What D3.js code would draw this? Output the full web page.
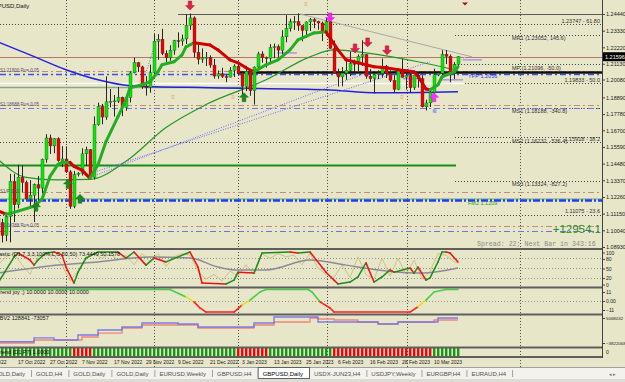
<!DOCTYPE html>
<html>
<head>
<meta charset="utf-8">
<script src="https://d3js.org/d3.v7.min.js"></script>
<style>
  body { margin: 0; background: #E8E6C9; overflow: hidden; }
  svg { display: block; font-family: "Liberation Sans", Arial, sans-serif; }
</style>
</head>
<body>
<div id="chart"></div>
<script>
// ---------- data ----------
// daily bars, [open, high, low, close], index 0 = 10 Oct 2022
const candles = [
  [1.1087,1.1115,1.0999,1.1055],[1.1055,1.1081,1.0923,1.0970],[1.0970,1.1124,1.0931,1.1097],[1.1097,1.1380,1.0924,1.1330],
  [1.1330,1.1380,1.1059,1.1174],[1.1174,1.1441,1.1150,1.1358],[1.1358,1.1437,1.1255,1.1323],[1.1323,1.1336,1.1207,1.1213],
  [1.1213,1.1338,1.1160,1.1238],[1.1238,1.1316,1.1059,1.1308],[1.1308,1.1366,1.1173,1.1285],[1.1285,1.1482,1.1249,1.1476],
  [1.1476,1.1644,1.1454,1.1619],[1.1619,1.1641,1.1513,1.1566],[1.1566,1.1617,1.1517,1.1614],[1.1614,1.1623,1.1460,1.1467],
  [1.1467,1.1564,1.1425,1.1479],[1.1479,1.1563,1.1386,1.1393],[1.1393,1.1405,1.1147,1.1164],[1.1164,1.1399,1.1151,1.1375],
  [1.1375,1.1392,1.1362,1.1384],[1.1384,1.1550,1.1369,1.1513],[1.1513,1.1561,1.1432,1.1541],[1.1541,1.1545,1.1342,1.1357],
  [1.1357,1.1762,1.1343,1.1707],[1.1707,1.1854,1.1700,1.1829],[1.1829,1.1845,1.1710,1.1758],[1.1758,1.2029,1.1740,1.1859],
  [1.1859,1.1945,1.1823,1.1862],[1.1862,1.1905,1.1761,1.1866],[1.1863,1.1958,1.1852,1.1890],[1.1890,1.1894,1.1764,1.1822],
  [1.1822,1.1904,1.1800,1.1887],[1.1887,1.2062,1.1855,1.2052],[1.2052,1.2154,1.2049,1.2120],[1.2120,1.2125,1.2058,1.2092],
  [1.2092,1.2100,1.1946,1.1959],[1.1959,1.2030,1.1901,1.1957],[1.1957,1.2107,1.1920,1.2053],[1.2053,1.2310,1.2030,1.2263],
  [1.2263,1.2310,1.2139,1.2276],[1.2276,1.2345,1.2170,1.2182],[1.2182,1.2202,1.2110,1.2152],[1.2152,1.2236,1.2133,1.2203],
  [1.2203,1.2272,1.2173,1.2267],[1.2267,1.2322,1.2220,1.2264],[1.2264,1.2307,1.2233,1.2278],[1.2278,1.2444,1.2244,1.2367],
  [1.2367,1.2447,1.2338,1.2418],[1.2418,1.2428,1.2153,1.2189],[1.2189,1.2242,1.2109,1.2143],[1.2143,1.2215,1.2119,1.2153],
  [1.2153,1.2191,1.2098,1.2156],[1.2156,1.2169,1.2086,1.2104],[1.2104,1.2145,1.2014,1.2031],[1.2031,1.2068,1.2013,1.2046],
  [1.2046,1.2086,1.2018,1.2028],[1.2028,1.2046,1.1990,1.2024],[1.2024,1.2090,1.2022,1.2070],[1.2070,1.2110,1.2024,1.2097],
  [1.2097,1.2123,1.2036,1.2050],[1.2050,1.2065,1.1900,1.1962],[1.1962,1.2099,1.1931,1.2063],[1.2063,1.2066,1.1900,1.1933],
  [1.1933,1.2095,1.1841,1.2091],[1.2091,1.2193,1.2084,1.2178],[1.2178,1.2196,1.2120,1.2154],[1.2154,1.2161,1.2087,1.2150],
  [1.2150,1.2244,1.2115,1.2221],[1.2221,1.2247,1.2150,1.2226],[1.2226,1.2241,1.2152,1.2203],[1.2203,1.2336,1.2176,1.2292],
  [1.2292,1.2436,1.2256,1.2348],[1.2348,1.2413,1.2327,1.2392],[1.2392,1.2431,1.2338,1.2394],[1.2394,1.2448,1.2332,1.2367],
  [1.2367,1.2370,1.2262,1.2335],[1.2335,1.2395,1.2285,1.2391],[1.2391,1.2418,1.2330,1.2407],[1.2407,1.2417,1.2349,1.2395],
  [1.2395,1.2400,1.2339,1.2384],[1.2384,1.2394,1.2264,1.2321],[1.2321,1.2418,1.2298,1.2392],[1.2392,1.2402,1.2212,1.2215],
  [1.2215,1.2267,1.2050,1.2052],[1.2052,1.2080,1.1961,1.2025],[1.2025,1.2091,1.1963,1.2051],[1.2051,1.2133,1.2006,1.2069],
  [1.2069,1.2194,1.2031,1.2115],[1.2115,1.2140,1.2054,1.2111],[1.2111,1.2175,1.2064,1.2162],[1.2162,1.2269,1.2098,1.2174],
  [1.2174,1.2178,1.2013,1.2030],[1.2030,1.2079,1.1990,1.2013],[1.2013,1.2050,1.1915,1.2041],[1.2041,1.2069,1.2011,1.2048],
  [1.2048,1.2148,1.2021,1.2096],[1.2096,1.2105,1.2018,1.2050],[1.2050,1.2069,1.1991,1.2003],[1.2003,1.2036,1.1922,1.1942],
  [1.1942,1.2070,1.1937,1.2068],[1.2068,1.2144,1.2020,1.2022],[1.2022,1.2069,1.1941,1.2035],[1.2035,1.2045,1.1919,1.1953],
  [1.1953,1.2040,1.1939,1.2038],[1.2038,1.2052,1.1954,1.2014],[1.2014,1.2036,1.1822,1.1826],[1.1826,1.1874,1.1802,1.1852],
  [1.1852,1.1938,1.1825,1.1923],[1.1923,1.2080,1.1906,1.2039],[1.2039,1.2058,1.2030,1.2050],[1.2050,1.2203,1.2014,1.2176],
  [1.2176,1.2204,1.2111,1.2163],[1.2163,1.2175,1.1990,1.2051],[1.2051,1.2124,1.2011,1.2108],[1.2108,1.2163,1.2085,1.2160]
];
const bidPrice = 1.21596;

const dateLabels = [[-4,"5 Oct 2022"],[5,"17 Oct 2022"],[13,"27 Oct 2022"],[21,"7 Nov 2022"],[29,"17 Nov 2022"],
  [37,"29 Nov 2022"],[45,"9 Dec 2022"],[53,"21 Dec 2022"],[61,"3 Jan 2023"],[69,"13 Jan 2023"],[77,"25 Jan 2023"],
  [85,"6 Feb 2023"],[93,"16 Feb 2023"],[101,"28 Feb 2023"],[109,"10 Mar 2023"]];
const gridBars = [17, 39, 60, 82.25, 102.25, 130.5];
const priceTicks = [1.24440,1.23330,1.22220,1.21130,1.20080,1.18890,1.17780,1.16700,1.15590,1.14480,1.13370,1.12260,1.11150,1.10040,1.08930];

// moving averages, [bar, price]
const fastMA = [[0,1.1135],[2,1.1112],[3,1.1115],[9,1.1164],[11,1.1211],[13,1.1363],[15,1.1443],[16,1.1456],[18,1.1456],
  [19,1.1430],[21,1.1405],[23,1.1350],[25,1.1440],[27,1.1595],[30,1.1761],[32,1.1874],[33,1.1953],[36,1.1973],[38,1.1993],
  [40,1.2059],[41,1.2106],[44,1.2126],[46,1.2172],[47,1.2225],[49,1.2252],[53,1.2238],[55,1.2205],[58,1.2139],[60,1.2119],
  [62,1.2086],[64,1.2059],[67,1.2106],[70,1.2139],[73,1.2205],[75,1.2272],[79,1.2318],[82,1.2325],[85,1.2205],[87,1.2139],
  [90,1.2119],[94,1.2093],[97,1.2086],[100,1.2073],[104,1.2059],[105,1.2030],[107,1.1945],[108,1.1940],[110,1.1973],
  [111,1.2026],[114,1.2059],[115,1.2093]];
const slowMA = [[0,1.1476],[7,1.1357],[15,1.1340],[23,1.1343],[32,1.1463],[42,1.1688],[52,1.1841],[67,1.2006],[78,1.2159],
  [84,1.2205],[92,1.2185],[105,1.2126],[114,1.2073],[115,1.2066]];
const longMA = [[0,1.2258],[8,1.2172],[17,1.2073],[25,1.2006],[33,1.1967],[53,1.1953],[82,1.1940],[95,1.1920],[115,1.1927]];

// horizontal objects
const fibLevels = [[1.23747,"61.80"],[1.19833,"50.0"],[1.15918,"38.2"],[1.11075,"23.6"]];
const pivots = [["MR1",1.23052,"145.6"],["MP",1.21096,"-50.0"],["MS1",1.18188,"-340.8"],["MS2",1.16232,"-536.4"],["MS3",1.13324,"-827.2"]];
const pivotStart = 114.25;
const pinkLevels = [1.2066, 1.1837, 1.1257, 1.1032];
const blueLevels = [1.2046, 1.1821, 1.0999];
const ypp = 1.2056, fm2 = 1.1209;
const highLine = [45, 1.2446];
const blackLine = [59.75, 1.2059];
const whiteLine = [116.75, 1.1987];
const greenLine = [114.5, 1.1436];
const greyGreenLine = [61, 1.1960];
const rangeSegs = [[116.25,121,1.2139],[110.5,116.25,1.2006],[69.75,74.75,1.2185],[101.25,105.5,1.2013]];

// trend lines, [[bar, price],[bar, price]]
const greyTrend = [[75.5,1.2444],[118.5,1.2159]];
const greyShort = [[108,1.1927],[116.75,1.2159]];
const dotTrends = [[[23,1.1357],[93.5,1.2066]],[[24.75,1.1397],[108,1.2126]],[[36.75,1.2033],[39.75,1.2285]]];

// signal arrows, [bar, tip price]
const redDown = [[48,1.2470],[89.25,1.2185],[92.4,1.2225],[97.25,1.2172]];
const magentaDown = [[83,1.2391]];
const magentaUp = [[109,1.1920]];
const greenUp = [[9.5,1.1191],[17.5,1.1343],[20.5,1.1244],[61.5,1.1920]];
const orangeMarks = [[43.75,1.1894],[58.75,1.1894],[101,1.1894],[77,1.2510]];

// stochastic window, [bar, value]
const stochMain = [[0,3],[4,84],[5,97],[8,75],[9,59],[10,75],[12,97],[14,100],[16,91],[17,53],[19,3],[20,37],[22,81],[25,100],
  [30,100],[32,81],[34,100],[37,59],[39,81],[42,69],[48,100],[50,53],[51,3],[57,0],[59,12],[60,37],[64,34],[66,97],[73,100],
  [75,97],[78,100],[82,37],[84,12],[85,0],[88,6],[90,22],[92,66],[94,6],[96,22],[98,44],[99,37],[103,50],[104,34],[105,53],
  [107,12],[108,19],[110,69],[111,100],[112,100],[113,97],[115,69]];
const stochSlow = [[0,34],[15,59],[25,69],[38,84],[48,81],[55,53],[59,44],[67,44],[78,75],[87,59],[95,44],[106,34],[115,50]];
const stochFast = [[0,60],[2,85],[4,95],[6,60],[8,30],[10,85],[12,95],[14,90],[16,60],[18,10],[20,40],[22,85],[24,95],[26,80],
  [28,95],[30,75],[32,90],[34,60],[36,95],[38,70],[40,95],[42,55],[44,85],[46,95],[48,90],[50,40],[52,15],[54,30],[56,10],
  [58,40],[60,25],[62,60],[64,30],[66,95],[68,80],[70,95],[72,85],[74,90],[76,60],[78,95],[80,50],[82,30],[84,20],[86,60],
  [88,20],[90,85],[92,30],[94,15],[96,80],[98,25],[100,80],[102,30],[104,75],[106,15],[108,40],[110,95],[112,90],[114,70],[115,65]];
const stochTicks = [100, 80, 50, 20, 0];
const stochLevels = [80, 50, 20];

// trend window
const trendLine = [[0,14],[43,14],[47,5],[49,-1],[50.5,-8.5],[52,-13.5],[59,-13.5],[61,-5],[63,1],[65.5,11],[67,14],[77.5,14],
  [78.5,11],[80.5,-1],[83,-8.5],[84,-13.5],[103,-13.5],[105,-7],[107,1],[109,11],[112,14],[115,14]];

// OBV window (millions)
const obvBlue = [[0,-3.4],[9,-2.0],[14,-2.76],[20,-1.0],[25,0.8],[31,1.87],[36,3.29],[45,2.93],[50,1.87],[64,3.29],
  [69,5.42],[80,3.65],[95,2.93],[100,3.65],[110,5.07],[115,5.07]];
const obvRed = [[0,-3.8],[9,-2.76],[21,-1.7],[25,-0.3],[31,1.51],[36,2.58],[50,1.51],[64,2.58],[69,3.65],[78,5.07],
  [80,4.71],[84,4.36],[90,3.65],[95,2.93],[100,3.65],[109,4.36],[115,4.36]];

// histogram runs, [first bar, last bar, sign]
const histRuns = [[0,18,1],[19,23,-1],[24,59,1],[60,67,-1],[68,83,1],[84,108,-1],[109,115,1]];

const tabs = ["GOLD,Daily","GOLD,H4","GOLD,Daily","GOLD,Daily","EURUSD,Weekly","GBPUSD,H4","GBPUSD,Daily",
  "USDX-JUN23,H4","USDJPY,Weekly","EURGBP,H4","EURAUD,H4"];
const activeTab = 6;

// ---------- layout ----------
const W = 625, H = 382, axisX = 602;
const svg = d3.select("#chart").append("svg").attr("width", W).attr("height", H);
svg.append("rect").attr("width", W).attr("height", H).attr("fill", "#E8E6C9");

const x = d3.scaleLinear().domain([0, 1]).range([-2, 2]);
const yMain = d3.scaleLinear().domain([1.08930, 1.24440]).range([247, 14]);
const yStoch = d3.scaleLinear().domain([0, 100]).range([284, 252]);
const yTrend = d3.scaleLinear().domain([-11, 11]).range([310, 292]);
const yObv = d3.scaleLinear().domain([-3.822068, 5.068032]).range([343, 318]);

const defs = svg.append("defs");
function clip(id, y0, y1) {
  defs.append("clipPath").attr("id", id).append("rect")
    .attr("x", 0).attr("y", y0).attr("width", axisX).attr("height", y1 - y0);
  return svg.append("g").attr("clip-path", "url(#" + id + ")");
}

// vertical grid through all windows
svg.append("g").selectAll("line").data(gridBars).join("line")
  .attr("x1", d => Math.round(x(d)) + 0.5).attr("x2", d => Math.round(x(d)) + 0.5)
  .attr("y1", 0).attr("y2", 367)
  .attr("stroke", "#4a4a4a").attr("stroke-dasharray", "1,2");

// ---------- main window ----------
const main = clip("cMain", 0, 248);

function level(p, b0, b1, stroke, w, dash) {
  const l = main.append("line")
    .attr("x1", b0 == null ? 0 : x(b0)).attr("x2", b1 == null ? axisX : x(b1))
    .attr("y1", Math.round(yMain(p)) + 0.5).attr("y2", Math.round(yMain(p)) + 0.5)
    .attr("stroke", stroke).attr("stroke-width", w);
  if (dash) l.attr("stroke-dasharray", dash);
  return l;
}

fibLevels.forEach(f => level(f[0], null, null, "#454545", 1, "1,2"));
pivots.forEach(p => level(p[1], pivotStart, null, "#454545", 1, "1,2"));
pinkLevels.forEach(p => level(p, null, null, "#C48B78", 1, "6,3,2,3"));
blueLevels.forEach((p, i) => level(p, null, null, i == 0 ? "#3850F0" : "#7272E0", i == 0 ? 1.6 : 1, "6,3,2,3"));
level(fm2, null, null, "#40A040", 0.8).attr("transform", "translate(0,-1.5)");
level(fm2, null, null, "#1E3CFF", 2.6, "7,2,2,2");
level(highLine[1], highLine[0], null, "#5a5a5a", 1);
level(whiteLine[1], null, whiteLine[0], "#FFFFFF", 1.6);
level(greyGreenLine[1], null, greyGreenLine[0], "#86A886", 1.6);
level(greenLine[1], null, greenLine[0], "#139013", 2);
level(bidPrice, null, null, "#B87565", 1);
level(blackLine[1], blackLine[0], null, "#101010", 2.6);

main.append("g").selectAll("line").data(rangeSegs).join("line")
  .attr("x1", d => x(d[0])).attr("x2", d => x(d[1]))
  .attr("y1", d => yMain(d[2])).attr("y2", d => yMain(d[2]))
  .attr("stroke", "#A898E8").attr("stroke-width", 1.5);

const priceLine = d3.line().x(d => x(d[0])).y(d => yMain(d[1])).curve(d3.curveMonotoneX);

main.append("path").attr("d", priceLine(longMA)).attr("fill", "none").attr("stroke", "#2222DD").attr("stroke-width", 1.5);
main.append("path").attr("d", priceLine(slowMA)).attr("fill", "none").attr("stroke", "#259625").attr("stroke-width", 1.2);

const straight = d3.line().x(d => x(d[0])).y(d => yMain(d[1]));
main.append("path").attr("d", straight(greyTrend)).attr("stroke", "#A8A8A8").attr("fill", "none");
main.append("path").attr("d", straight(greyShort)).attr("stroke", "#C8C8C8").attr("fill", "none");
dotTrends.forEach(t => main.append("path").attr("d", straight(t))
  .attr("stroke", "#6A6AF8").attr("stroke-dasharray", "1,1.5").attr("fill", "none"));

// candles
const cg = main.append("g");
cg.selectAll("line").data(candles).join("line")
  .attr("x1", (d, i) => x(i) + 0.5).attr("x2", (d, i) => x(i) + 0.5)
  .attr("y1", d => yMain(d[1])).attr("y2", d => yMain(d[2]))
  .attr("stroke", "#262626");
cg.selectAll("rect").data(candles).join("rect")
  .attr("x", (d, i) => x(i) - 1).attr("width", 3)
  .attr("y", d => yMain(Math.max(d[0], d[3])))
  .attr("height", d => Math.max(1, Math.abs(yMain(d[0]) - yMain(d[3]))))
  .attr("fill", d => d[3] >= d[0] ? "#00F000" : "#F00000")
  .attr("stroke", "#303030").attr("stroke-width", 0.35);

// fast MA: green while rising, red while falling
let maCol = "#D00000";
for (let k = 1; k < fastMA.length; k++) {
  const a = fastMA[k - 1], b = fastMA[k];
  if (b[1] > a[1]) maCol = "#22AE22"; else if (b[1] < a[1]) maCol = "#D00000";
  main.append("line").attr("x1", x(a[0])).attr("y1", yMain(a[1])).attr("x2", x(b[0])).attr("y2", yMain(b[1]))
    .attr("stroke", maCol).attr("stroke-width", 3).attr("stroke-linecap", "round");
}

// arrows
function arrow(list, color, up) {
  main.append("g").selectAll("path").data(list).join("path")
    .attr("transform", d => "translate(" + x(d[0]) + "," + yMain(d[1]) + ")" + (up ? " scale(1,-1)" : ""))
    .attr("d", "M0,0 L-4.5,-4.5 L-1.8,-4.5 L-1.8,-9 L1.8,-9 L1.8,-4.5 L4.5,-4.5 Z")
    .attr("fill", color).attr("stroke", d3.color(color).darker(0.8)).attr("stroke-width", 0.5);
}
arrow(redDown, "#E0204A", false);
arrow(magentaDown, "#FF20FF", false);
arrow(magentaUp, "#FF30FF", true);
arrow(greenUp, "#1E8A1E", true);

main.append("g").selectAll("text").data(orangeMarks).join("text")
  .attr("x", d => x(d[0])).attr("y", d => yMain(d[1]) + 2)
  .attr("text-anchor", "middle").attr("font-size", 6).attr("fill", "#E0A040").text("≡");
main.append("text").attr("x", x(magentaUp[0][0])).attr("y", yMain(magentaUp[0][1]) + 20)
  .attr("text-anchor", "middle").attr("font-size", 6).attr("fill", "#3050F0").text("≋");
main.append("path").attr("transform", "translate(" + x(116.75) + "," + yMain(1.2500) + ")")
  .attr("d", "M0,0 L-3,-3 L3,-3 Z").attr("fill", "#A01030");

// level texts
const small = 5.5;
main.append("g").selectAll("text").data(fibLevels).join("text")
  .attr("x", 600).attr("y", d => yMain(d[0]) - 1.5).attr("text-anchor", "end")
  .attr("font-size", small).attr("fill", "#303030")
  .text(d => d3.format(".5f")(d[0]) + " - " + d[1]);
main.append("g").selectAll("text").data(pivots).join("text")
  .attr("x", x(pivotStart) + 57).attr("y", d => yMain(d[1]) + 5.5)
  .attr("font-size", small).attr("fill", "#303030")
  .text(d => d[0] + " (" + d3.format(".5f")(d[1]) + ", " + d[2] + ")");
main.append("text").attr("x", x(pivotStart) + 13).attr("y", yMain(ypp) + 5.5)
  .attr("font-size", small).attr("fill", "#2030F0").text("YPP " + ypp);
main.append("text").attr("x", x(pivotStart) + 13).attr("y", yMain(fm2) + 5.5)
  .attr("font-size", small).attr("fill", "#20A020").text("FM2 " + fm2);
[[1.2066,"S1:21800  Ru= 0.05"],[1.1837,"S1:18688  Ru= 0.05"],[1.1257,"S1/P 1.12"],[1.1032,"S1:10388 Ru= 0.05"]]
  .forEach(t => main.append("text").attr("x", 0).attr("y", yMain(t[0]) + 1)
    .attr("font-size", 4.5).attr("fill", "#505070").text(t[1]));

main.append("text").attr("x", -11).attr("y", 8).attr("font-size", 6).attr("fill", "#101010").text("GBPUSD,Daily");
main.append("text").attr("x", 601).attr("y", 233).attr("text-anchor", "end")
  .attr("font-size", 11.5).attr("fill", "#2E8B2E").text("+12954.1");
main.append("text").attr("x", 477).attr("y", 246)
  .attr("font-family", "'Liberation Mono', 'DejaVu Sans Mono', monospace")
  .attr("font-size", 6.6).attr("fill", "#8A8A8A").text("Spread: 22; Next Bar in 343:16");

// ---------- stochastic ----------
const st = clip("cSt", 250, 286);
st.append("g").selectAll("line").data(stochLevels).join("line")
  .attr("x1", 0).attr("x2", axisX).attr("y1", d => Math.round(yStoch(d)) + 0.5).attr("y2", d => Math.round(yStoch(d)) + 0.5)
  .attr("stroke", "#909090").attr("stroke-dasharray", "1,2");
const stLine = d3.line().x(d => x(d[0])).y(d => yStoch(d[1]));
st.append("path").attr("d", stLine(stochFast)).attr("fill", "none").attr("stroke", "#C8BE7C").attr("stroke-width", 0.9);
st.append("path").attr("d", stLine.curve(d3.curveMonotoneX)(stochSlow)).attr("fill", "none").attr("stroke", "#8C8C98").attr("stroke-width", 1.5);
stLine.curve(d3.curveLinear);
let sc = "#1E8A1E";
for (let k = 1; k < stochMain.length; k++) {
  const a = stochMain[k - 1], b = stochMain[k];
  if (b[1] > a[1]) sc = "#1E8A1E"; else if (b[1] < a[1]) sc = "#F01010";
  st.append("line").attr("x1", x(a[0])).attr("y1", yStoch(a[1])).attr("x2", x(b[0])).attr("y2", yStoch(b[1]))
    .attr("stroke", sc).attr("stroke-width", 1.5).attr("stroke-linecap", "round");
}
st.append("text").attr("x", -15).attr("y", 255.5).attr("font-size", small).attr("fill", "#101010")
  .text("Stochastic (D1,7,3,3,100%,L,C,50,50) 73.4449 50.1578");

// ---------- trend window ----------
const tr = clip("cTr", 288, 313);
tr.append("line").attr("x1", 0).attr("x2", axisX).attr("y1", Math.round(yTrend(0)) + 0.5).attr("y2", Math.round(yTrend(0)) + 0.5)
  .attr("stroke", "#909090").attr("stroke-dasharray", "1,2");
for (let k = 1; k < trendLine.length; k++) {
  const a = trendLine[k - 1], b = trendLine[k], m = (a[1] + b[1]) / 2;
  const c = m > 3 ? "#40D040" : m < -3 ? "#FF2020" : "#E8E020";
  tr.append("line").attr("x1", x(a[0])).attr("y1", yTrend(a[1])).attr("x2", x(b[0])).attr("y2", yTrend(b[1]))
    .attr("stroke", c).attr("stroke-width", 1.6).attr("stroke-linecap", "round");
}
tr.append("text").attr("x", -3).attr("y", 294).attr("font-size", small).attr("fill", "#101010")
  .text("Trend joy ;) 10.0000 10.0000 10.0000");

// ---------- OBV window ----------
const ob = clip("cOb", 315, 346);
const obLine = d3.line().x(d => x(d[0])).y(d => yObv(d[1])).curve(d3.curveStepAfter);
ob.append("path").attr("d", obLine(obvRed)).attr("fill", "none").attr("stroke", "#F08878").attr("stroke-width", 1.4);
ob.append("path").attr("d", obLine(obvBlue)).attr("fill", "none").attr("stroke", "#7070E8").attr("stroke-width", 1.4).attr("opacity", 0.9);
ob.append("text").attr("x", -4.5).attr("y", 320).attr("font-size", small).attr("fill", "#101010").text("OBV2 128841 -73057");

// ---------- histogram ----------
const hg = clip("cHg", 348, 356);
const histBars = [];
histRuns.forEach(r => { for (let b = r[0]; b <= r[1]; b++) histBars.push([b, r[2]]); });
hg.selectAll("rect").data(histBars).join("rect")
  .attr("x", d => x(d[0]) - 1).attr("width", 2.4).attr("y", 348).attr("height", 9)
  .attr("fill", d => d[1] > 0 ? "#139A13" : "#FF0000");
hg.append("text").attr("x", -3).attr("y", 354).attr("font-size", small).attr("fill", "#101010").text("Trend [D1,P7] 1.0000");

// window borders
[249, 287.5, 314.5, 347.5, 357].forEach(yb => svg.append("line")
  .attr("x1", 0).attr("x2", axisX).attr("y1", yb).attr("y2", yb).attr("stroke", "#5E5E5E").attr("stroke-width", 2));
svg.append("line").attr("x1", axisX + 0.5).attr("x2", axisX + 0.5).attr("y1", 0).attr("y2", 358).attr("stroke", "#404040");

// ---------- right scales ----------
function rscale(scale, ticks, fmt, fs, dy) {
  const g = svg.append("g").attr("transform", "translate(" + (axisX + 1) + "," + (dy || 0) + ")")
    .call(d3.axisRight(scale).tickValues(ticks).tickSize(2).tickPadding(1).tickFormat(fmt));
  g.select(".domain").remove();
  g.selectAll("text").attr("font-size", fs || small).attr("fill", "#202020").attr("font-family", "'Liberation Sans', Arial, sans-serif");
  g.selectAll("line").attr("stroke", "#404040");
}
rscale(yMain, priceTicks, d3.format(".5f"));
rscale(yStoch, stochTicks, d3.format("d"), 5, 0.5);
rscale(yTrend, [11, 0, -11], d => d == 0 ? "0.00" : d3.format("d")(d), 5);
rscale(yObv, [5.068032, -3.822068], d => d3.format("d")(Math.round(d * 1e6)), 4.4);
svg.append("text").attr("x", axisX + 4).attr("y", 354).attr("font-size", 5).attr("fill", "#202020").text("0");

// current price box
svg.append("rect").attr("x", axisX + 1).attr("y", yMain(bidPrice) - 4.5).attr("width", 22).attr("height", 9).attr("fill", "#000");
svg.append("text").attr("x", axisX + 3).attr("y", yMain(bidPrice) + 2).attr("font-size", small).attr("fill", "#FFF")
  .text(d3.format(".5f")(bidPrice));

// ---------- date axis ----------
svg.append("g").selectAll("text").data(dateLabels).join("text")
  .attr("x", d => x(d[0])).attr("y", 364).attr("font-size", 5).attr("fill", "#202020").text(d => d[1]);

// ---------- tab bar ----------
const tb = svg.append("g");
tb.append("rect").attr("x", 0).attr("y", 367).attr("width", W).attr("height", 12).attr("fill", "#F3F2EC");
tb.append("line").attr("x1", 0).attr("x2", W).attr("y1", 367.5).attr("y2", 367.5).attr("stroke", "#A0A0A0");
tb.append("rect").attr("x", 0).attr("y", 379).attr("width", W).attr("height", 3).attr("fill", "#DCDCD4");
let tx = -12;
tabs.forEach((name, i) => {
  const t = tb.append("text").attr("x", tx + 5).attr("y", 375.5).attr("font-size", 6)
    .attr("fill", i == activeTab ? "#000" : "#505050").text(name);
  const w = t.node().getComputedTextLength() + 11;
  if (i == activeTab) {
    tb.insert("rect", "text").attr("x", tx + 0.5).attr("y", 367.5).attr("width", w).attr("height", 11)
      .attr("fill", "#FFFFFF").attr("stroke", "#606060");
  } else {
    tb.append("line").attr("x1", tx + w + 0.5).attr("x2", tx + w + 0.5).attr("y1", 370).attr("y2", 377).attr("stroke", "#A0A0A0");
  }
  tx += w;
});
tb.append("text").attr("x", 609).attr("y", 375.5).attr("font-size", 5).attr("fill", "#707070").text("◂  ▸");
</script>
</body>
</html>
